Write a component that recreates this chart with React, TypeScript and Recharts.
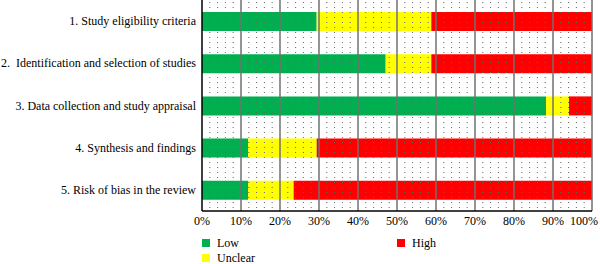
import React from 'react';
import { BarChart, Bar, XAxis, YAxis, ReferenceLine } from 'recharts';

const categories = [
  '1. Study eligibility criteria',
  '2.  Identification and selection of studies',
  '3. Data collection and study appraisal',
  '4. Synthesis and findings',
  '5. Risk of bias in the review',
];
const low = [29.4, 47.1, 88.2, 11.8, 11.8];
const unclear = [29.4, 11.7, 5.9, 17.6, 11.7];
const high = [41.2, 41.2, 5.9, 70.6, 76.5];
const majorTicks = [0, 10, 20, 30, 40, 50, 60, 70, 80, 90, 100];
const minorTicks = [
  2, 4, 6, 8, 12, 14, 16, 18, 22, 24, 26, 28, 32, 34, 36, 38, 42, 44, 46, 48,
  52, 54, 56, 58, 62, 64, 66, 68, 72, 74, 76, 78, 82, 84, 86, 88, 92, 94, 96, 98,
];

const data = categories.map((name, i) => ({
  name,
  low: low[i],
  unclear: unclear[i],
  high: high[i],
}));

const FONT = "'Liberation Serif', serif";

const CategoryTick = ({ x, y, payload }: any) => (
  <text
    x={x}
    y={y}
    textAnchor="end"
    dominantBaseline="central"
    fill="#000"
    fontSize={12}
    style={{ whiteSpace: 'pre', fontFamily: FONT }}
  >
    {payload.value}
  </text>
);

// last label is pulled in so it stays inside the page, like the original
const PercentTick = ({ x, y, payload }: any) => {
  const last = payload.value === 100;
  return (
    <text
      x={last ? x + 6 : x}
      y={y}
      dy="0.71em"
      textAnchor={last ? 'end' : 'middle'}
      fill="#000"
      fontSize={12}
      style={{ fontFamily: FONT }}
    >
      {`${payload.value}%`}
    </text>
  );
};

const legendItems = [
  { label: 'Low', color: '#00B050', left: 202, top: 237 },
  { label: 'Unclear', color: '#FFFF00', left: 202, top: 252 },
  { label: 'High', color: '#FF0000', left: 397, top: 237 },
];

export default function App() {
  return (
    <div style={{ position: 'absolute', left: 0, top: 0, width: 600, height: 264, background: '#fff', fontFamily: FONT }}>
      <BarChart
        layout="vertical"
        width={600}
        height={233}
        data={data}
        margin={{ top: 0, right: 8, left: 0, bottom: 0 }}
        barSize={19}
      >
        {minorTicks.map((t) => (
          <ReferenceLine
            key={`minor-${t}`}
            x={t}
            stroke="#666"
            strokeDasharray="1 4"
            strokeDashoffset={-3}
          />
        ))}
        {majorTicks.slice(1).map((t) => (
          <ReferenceLine key={`major-${t}`} x={t} stroke="#707070" strokeWidth={1.5} />
        ))}
        <XAxis
          type="number"
          domain={[0, 100]}
          ticks={majorTicks}
          interval={0}
          axisLine={{ stroke: '#000', strokeWidth: 1.5 }}
          tickLine={false}
          tickSize={0}
          tickMargin={5}
          height={22}
          tick={<PercentTick />}
        />
        <YAxis
          type="category"
          dataKey="name"
          width={202}
          axisLine={{ stroke: '#000', strokeWidth: 1.5 }}
          tickLine={false}
          tickSize={0}
          tickMargin={6}
          tick={<CategoryTick />}
        />
        <Bar dataKey="low" stackId="a" fill="#00B050" isAnimationActive={false} />
        <Bar dataKey="unclear" stackId="a" fill="#FFFF00" isAnimationActive={false} />
        <Bar dataKey="high" stackId="a" fill="#FF0000" isAnimationActive={false} />
      </BarChart>
      {legendItems.map((item) => (
        <div
          key={item.label}
          style={{
            position: 'absolute',
            left: item.left,
            top: item.top,
            display: 'flex',
            alignItems: 'center',
            fontSize: 12,
            lineHeight: '12px',
            color: '#000',
          }}
        >
          <span style={{ width: 8, height: 8, background: item.color, marginRight: 7, display: 'inline-block' }} />
          {item.label}
        </div>
      ))}
    </div>
  );
}
